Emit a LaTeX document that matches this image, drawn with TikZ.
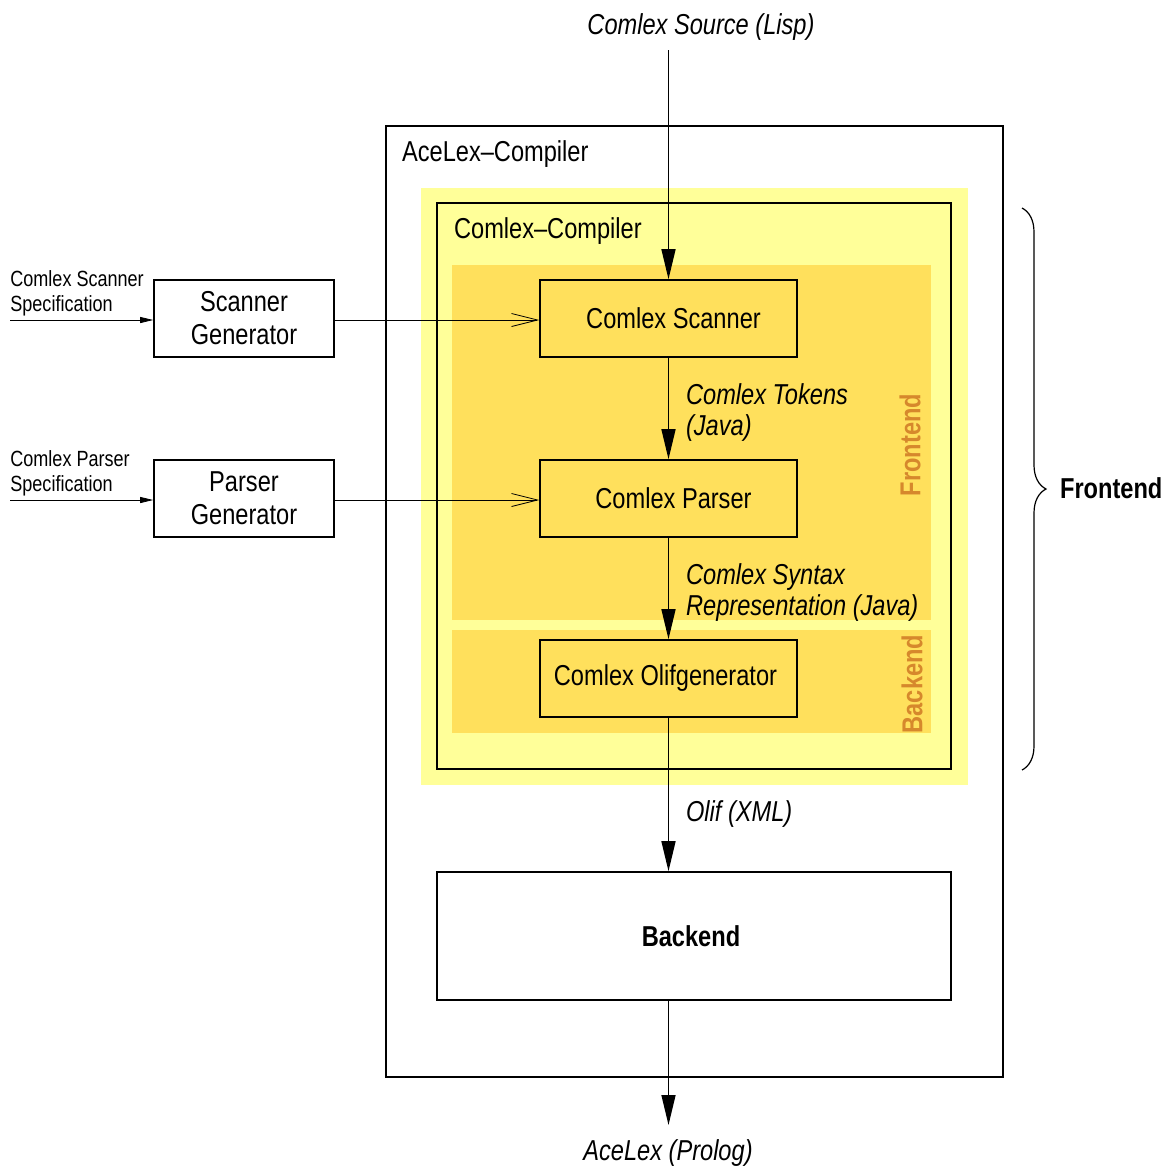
\documentclass[tikz,border=0pt]{standalone}
\usepackage{fontspec}
\setmainfont{Liberation Sans}[FakeStretch=0.82]
\usetikzlibrary{arrows.meta,fit,decorations.pathreplacing}
\definecolor{paleyellow}{RGB}{255,255,153}
\definecolor{deepyellow}{RGB}{255,224,92}
\definecolor{tagorange}{RGB}{214,136,44}
\begin{document}
\begin{tikzpicture}[x=0.5pt,y=-0.5pt,
  txt/.style={font=\fontsize{14.4pt}{16.5pt}\selectfont},
  smalltxt/.style={font=\fontsize{11pt}{12.5pt}\selectfont, align=left, anchor=west, inner sep=0pt},
  box/.style={draw, line width=0.8pt, inner sep=0pt},
  flow/.style={line width=0.75pt, -{Triangle[length=15pt,width=7pt]}},
  feed/.style={line width=0.4pt, -{Straight Barb[length=13pt,width=6.5pt]}},
  spec/.style={line width=0.4pt, -{Triangle[length=6.5pt,width=3pt]}},
  tag/.style={rotate=90, text=tagorange, font=\fontsize{14.4pt}{16.5pt}\selectfont\bfseries},
  lbl/.style={anchor=west, align=left, font=\fontsize{14.4pt}{15.5pt}\selectfont\itshape}]
\useasboundingbox (0,0) rectangle (1173,1169);

% compiler frames and coloured regions
\draw[line width=0.8pt] (386,126) rectangle (1003,1077);
\fill[paleyellow] (421,188) rectangle (968,785);
\draw[line width=0.8pt] (437,203) rectangle (951,769);
\fill[deepyellow] (452,265) rectangle (931,620);
\fill[deepyellow] (452,630) rectangle (931,733);

\node[txt, anchor=west] (acetitle) at (395,154) {AceLex–Compiler};
\node[txt, anchor=west] (comtitle) at (447,231) {Comlex–Compiler};

\node[tag] (fronttag) at (910,445) {Frontend};
\node[tag] (backtag) at (912,684) {Backend};

% processing stages
\node[box, fit={(540,280) (797,357)}] (scan) {};
\node[txt] at ([xshift=2.5pt]scan.center) {Comlex Scanner};
\node[box, fit={(540,460) (797,537)}] (parse) {};
\node[txt] at ([xshift=2.5pt]parse.center) {Comlex Parser};
\node[box, fit={(540,640) (797,717)}] (olif) {};
\node[txt] at ([xshift=-1.5pt]olif.center) {Comlex Olifgenerator};
\node[box, fit={(437,872) (951,1000)}] (back) {};
\node[txt, font=\fontsize{14.4pt}{16.5pt}\selectfont\bfseries] at ([xshift=-1.5pt]back.center) {Backend};

\node[box, fit={(154,280) (334,357)}] (sgen) {};
\node[txt, align=center] (sgentxt) at (sgen.center) {Scanner\\Generator};
\node[box, fit={(154,460) (334,537)}] (pgen) {};
\node[txt, align=center] (pgentxt) at (pgen.center) {Parser\\Generator};

% inputs and outputs
\node[txt, font=\fontsize{14.4pt}{16.5pt}\selectfont\itshape] (srctxt) at (701,27) {Comlex Source (Lisp)};
\coordinate (src) at (668.5,50);
\node[txt, font=\fontsize{14.4pt}{16.5pt}\selectfont\itshape] (outtxt) at (668,1153) {AceLex (Prolog)};
\coordinate (out) at (668.5,1125);

\node[smalltxt] (sspec) at (10,293) {Comlex Scanner\\Specification};
\node[smalltxt] (pspec) at (10,473) {Comlex Parser\\Specification};
\coordinate (sin) at (10,320);
\coordinate (pin) at (10,500);

% connectors
\draw[flow] (src) -- (scan.north);
\draw[flow] (scan.south) -- (parse.north);
\draw[flow] (parse.south) -- (olif.north);
\draw[flow] (olif.south) -- (olif.south |- back.north);
\draw[flow] (olif.south |- back.south) -- (out);

\draw[spec] (sin) -- (sin -| sgen.west);
\draw[spec] (pin) -- (pin -| pgen.west);
\draw[feed] (sin -| sgen.east) -- (sin -| scan.west);
\draw[feed] (pin -| pgen.east) -- (pin -| parse.west);

% connector labels
\node[lbl] (toklbl) at (679,413) {Comlex Tokens\\(Java)};
\node[lbl] (synlbl) at (679,593) {Comlex Syntax\\Representation (Java)};
\node[lbl] (olflbl) at (679,814) {Olif (XML)};

% frontend brace
\draw[line width=0.6pt, decorate, decoration={brace, amplitude=12pt}] (1022,208) -- (1022,770);
\node[txt, anchor=west, font=\fontsize{14.4pt}{16.5pt}\selectfont\bfseries] (fronttxt) at (1053,488) {Frontend};
\end{tikzpicture}
\end{document}
